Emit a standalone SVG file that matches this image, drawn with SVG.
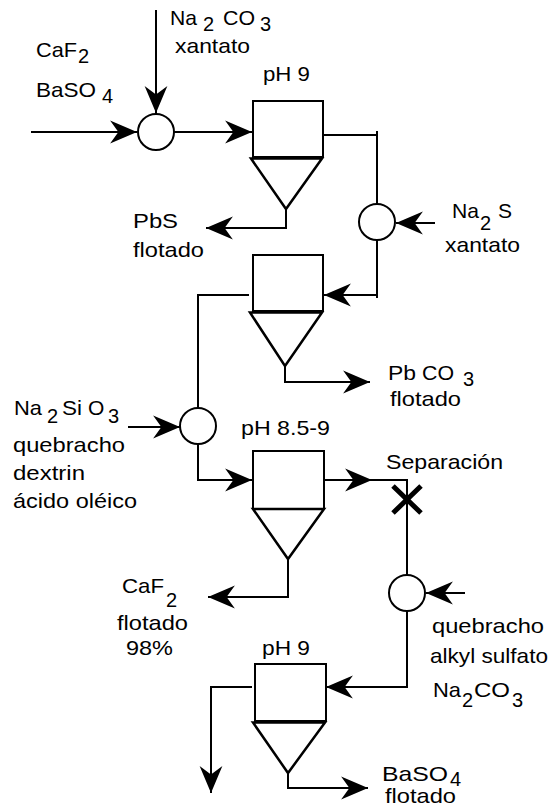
<svg xmlns="http://www.w3.org/2000/svg" width="553" height="807" viewBox="0 0 553 807">
<style>
.ln{fill:none;stroke:#000;stroke-width:2}
.arr{marker-end:url(#ah)}
.box{fill:#fff;stroke:#000;stroke-width:2}
.cone{fill:#fff;stroke:#000;stroke-width:2.5;stroke-linejoin:miter}
.mix{fill:#fff;stroke:#000;stroke-width:2}
.x{stroke:#000;stroke-width:5;fill:none}
text{font-family:"Liberation Sans",Arial,Helvetica,sans-serif;font-size:21px;fill:#000}
.sub{font-size:20px}
</style>
<defs>
<marker id="ah" markerUnits="userSpaceOnUse" markerWidth="30" markerHeight="26" viewBox="-28 -12 29 24" refX="0" refY="0" orient="auto">
<path d="M0,0 L-26,-11 L-18,0 L-26,11 Z" fill="#000"/>
</marker>
</defs>

<g id="connectors">
<line class="ln arr" x1="31" y1="132" x2="137" y2="132"/>
<line class="ln arr" x1="156" y1="10" x2="156" y2="113"/>
<line class="ln arr" x1="174" y1="132" x2="252" y2="132"/>
<polyline class="ln" points="323,135 377,135"/>
<line class="ln" x1="377" y1="131" x2="377" y2="204"/>
<line class="ln arr" x1="435" y1="223" x2="396" y2="223"/>
<line class="ln" x1="377" y1="240" x2="377" y2="298"/>
<line class="ln arr" x1="377" y1="295" x2="324" y2="295"/>
<polyline class="ln arr" points="286,209 286,228 206,228"/>
<polyline class="ln" points="249,295 198,295 198,408"/>
<polyline class="ln arr" points="285,366 285,382 370,382"/>
<line class="ln arr" x1="128" y1="427" x2="180" y2="427"/>
<polyline class="ln arr" points="198,444 198,480 252,480"/>
<line class="ln arr" x1="324" y1="480" x2="372" y2="480"/>
<polyline class="ln" points="372,480 407,480 407,575"/>
<polyline class="ln arr" points="288,559 288,597 208,597"/>
<line class="ln arr" x1="465" y1="593" x2="426" y2="593"/>
<polyline class="ln arr" points="407,611 407,687 326,687"/>
<polyline class="ln arr" points="252,687 211,687 211,793"/>
<polyline class="ln arr" points="288,773 288,788 368,788"/>
</g>

<g id="separacion-mark">
<path class="x" d="M393,486 L421,513 M421,486 L393,513"/>
</g>

<g id="mixer1"><circle class="mix" cx="156" cy="132" r="18"/></g>
<g id="mixer2"><circle class="mix" cx="377" cy="222" r="18"/></g>
<g id="mixer3"><circle class="mix" cx="198" cy="426" r="18"/></g>
<g id="mixer4"><circle class="mix" cx="407" cy="593" r="18"/></g>

<g id="cell1">
<rect class="box" x="253" y="101" width="70" height="56"/>
<polygon class="cone" points="251,158.5 322,158.5 286,209"/>
<text x="263" y="81" textLength="47" lengthAdjust="spacingAndGlyphs">pH 9</text>
</g>
<g id="cell2">
<rect class="box" x="253" y="255" width="70" height="56"/>
<polygon class="cone" points="250,312.5 322,312.5 285,366"/>
</g>
<g id="cell3">
<rect class="box" x="253" y="451" width="71" height="58"/>
<polygon class="cone" points="253,509 324,509 288,559"/>
<text x="241" y="435" textLength="89" lengthAdjust="spacingAndGlyphs">pH 8.5-9</text>
</g>
<g id="cell4">
<rect class="box" x="255" y="664" width="71" height="57"/>
<polygon class="cone" points="253,722.5 325,722.5 288,773"/>
<text x="262" y="655" textLength="48" lengthAdjust="spacingAndGlyphs">pH 9</text>
</g>

<g id="labels">
<text x="36" y="57" textLength="41" lengthAdjust="spacingAndGlyphs">CaF</text><text class="sub" x="78" y="63">2</text>
<text x="36" y="96.5" textLength="60" lengthAdjust="spacingAndGlyphs">BaSO</text><text class="sub" x="102" y="103">4</text>
<text x="170" y="25" textLength="27" lengthAdjust="spacingAndGlyphs">Na</text><text class="sub" x="203" y="30.5">2</text><text x="223" y="25" textLength="32" lengthAdjust="spacingAndGlyphs">CO</text><text class="sub" x="260" y="30.5">3</text>
<text x="175" y="52.5" textLength="75" lengthAdjust="spacingAndGlyphs">xantato</text>
<text x="133" y="228" textLength="45" lengthAdjust="spacingAndGlyphs">PbS</text>
<text x="133" y="257" textLength="71" lengthAdjust="spacingAndGlyphs">flotado</text>
<text x="452" y="218" textLength="27" lengthAdjust="spacingAndGlyphs">Na</text><text class="sub" x="480" y="230">2</text><text x="498" y="218">S</text>
<text x="445" y="252" textLength="75" lengthAdjust="spacingAndGlyphs">xantato</text>
<text x="388" y="380" textLength="28" lengthAdjust="spacingAndGlyphs">Pb</text><text x="422" y="380" textLength="32" lengthAdjust="spacingAndGlyphs">CO</text><text class="sub" x="463" y="386">3</text>
<text x="390" y="406" textLength="71" lengthAdjust="spacingAndGlyphs">flotado</text>
<text x="14" y="415" textLength="28" lengthAdjust="spacingAndGlyphs">Na</text><text class="sub" x="47" y="423">2</text><text x="62" y="415" textLength="20" lengthAdjust="spacingAndGlyphs">Si</text><text x="88" y="415">O</text><text class="sub" x="108" y="423">3</text>
<text x="13" y="452" textLength="112" lengthAdjust="spacingAndGlyphs">quebracho</text>
<text x="13" y="480" textLength="72" lengthAdjust="spacingAndGlyphs">dextrin</text>
<text x="13" y="508" textLength="124" lengthAdjust="spacingAndGlyphs">ácido oléico</text>
<text x="386" y="469" textLength="117" lengthAdjust="spacingAndGlyphs">Separación</text>
<text x="122" y="593" textLength="42" lengthAdjust="spacingAndGlyphs">CaF</text><text class="sub" x="166" y="607">2</text>
<text x="117" y="630" textLength="71" lengthAdjust="spacingAndGlyphs">flotado</text>
<text x="126" y="655" textLength="47" lengthAdjust="spacingAndGlyphs">98%</text>
<text x="432" y="633" textLength="112" lengthAdjust="spacingAndGlyphs">quebracho</text>
<text x="430" y="663" textLength="118" lengthAdjust="spacingAndGlyphs">alkyl sulfato</text>
<text x="433" y="697" textLength="28" lengthAdjust="spacingAndGlyphs">Na</text><text class="sub" x="462" y="707">2</text><text x="474" y="697" textLength="36" lengthAdjust="spacingAndGlyphs">CO</text><text class="sub" x="512" y="707">3</text>
<text x="382" y="781" textLength="66" lengthAdjust="spacingAndGlyphs">BaSO</text><text class="sub" x="450" y="786">4</text>
<text x="385" y="803" textLength="71" lengthAdjust="spacingAndGlyphs">flotado</text>
</g>
</svg>
